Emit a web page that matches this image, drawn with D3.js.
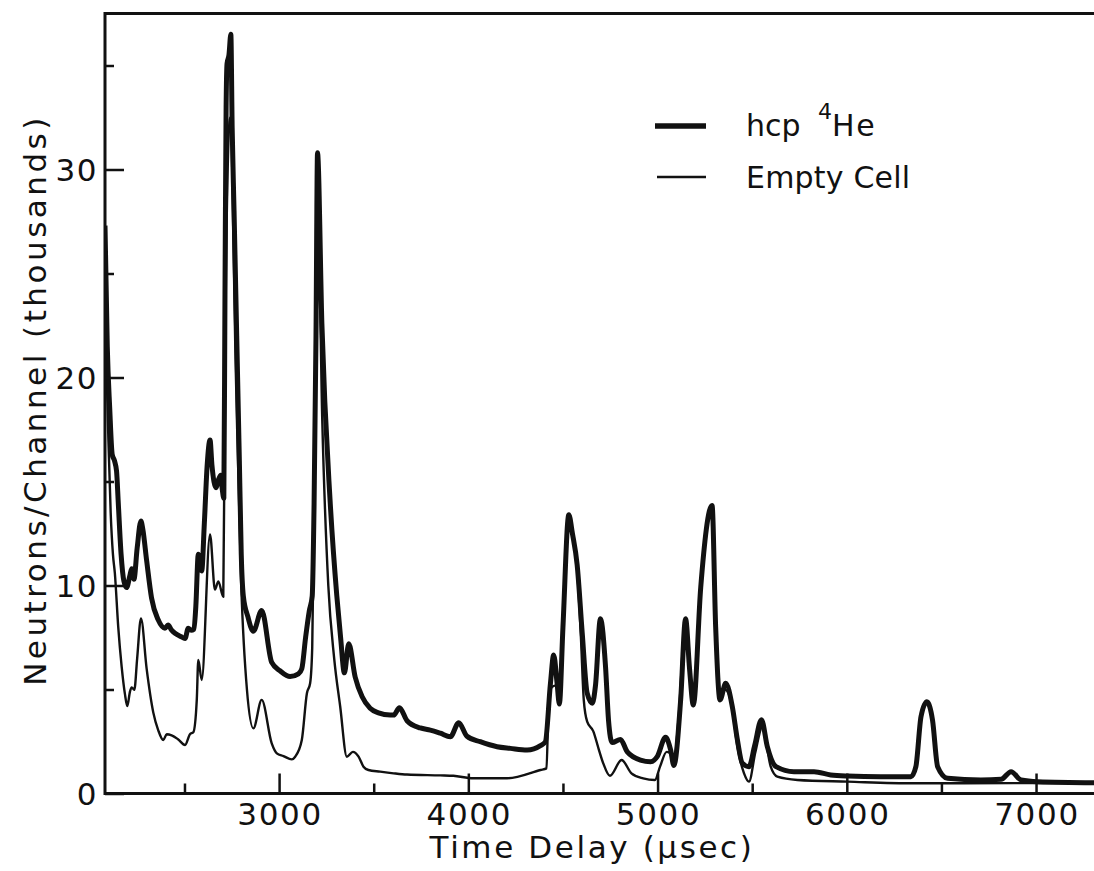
<!DOCTYPE html>
<html>
<head>
<meta charset="utf-8">
<script src="https://cdn.jsdelivr.net/npm/d3@7/dist/d3.min.js"></script>
<style>
  html, body { margin: 0; padding: 0; background: #fff; }
  svg { display: block; }
  text { font-family: "DejaVu Sans", sans-serif; fill: #111; }
</style>
</head>
<body>
<svg id="chart" width="1094" height="871"></svg>
<script>
// Time-of-flight spectra: hcp 4He sample vs. empty cell (counts in thousands)
const hcpTime = [2080, 2092, 2105, 2118, 2130, 2141, 2150, 2165, 2180, 2194, 2212, 2221, 2233, 2250, 2270, 2280, 2300, 2326, 2361, 2397, 2413, 2432, 2450, 2480, 2503, 2520, 2535, 2550, 2560, 2573, 2591, 2605, 2620, 2635, 2645, 2667, 2680, 2692, 2700, 2708, 2714, 2720, 2725, 2735, 2745, 2752, 2762, 2776, 2790, 2800, 2811, 2835, 2864, 2908, 2961, 3005, 3058, 3102, 3120, 3140, 3160, 3175, 3185, 3195, 3203, 3226, 3270, 3305, 3325, 3345, 3368, 3402, 3439, 3481, 3525, 3587, 3605, 3636, 3676, 3746, 3799, 3852, 3905, 3949, 3993, 4063, 4152, 4222, 4311, 4381, 4407, 4434, 4451, 4469, 4481, 4500, 4531, 4550, 4575, 4602, 4628, 4655, 4672, 4698, 4725, 4741, 4760, 4804, 4840, 4910, 4963, 4998, 5042, 5069, 5086, 5122, 5148, 5169, 5189, 5228, 5288, 5307, 5330, 5360, 5395, 5422, 5448, 5483, 5513, 5549, 5580, 5626, 5721, 5827, 5915, 6004, 6180, 6339, 6365, 6392, 6423, 6453, 6480, 6533, 6709, 6815, 6868, 6921, 7009, 7338];
const hcpCounts = [27.3, 21.5, 18.5, 16.3, 16.0, 15.5, 14.0, 11.5, 10.2, 9.9, 10.5, 10.8, 10.3, 11.8, 13.1, 12.7, 11.2, 9.4, 8.35, 7.95, 8.1, 7.85, 7.7, 7.55, 7.45, 7.95, 7.85, 7.9, 9.0, 11.5, 10.7, 13.0, 15.8, 17.0, 15.8, 14.7, 15.1, 15.3, 14.6, 14.2, 24.0, 33.0, 35.1, 35.5, 36.5, 32.0, 28.0, 22.0, 16.0, 11.5, 9.5, 8.5, 7.8, 8.8, 6.3, 5.9, 5.62, 5.75, 6.0, 7.5, 8.8, 9.5, 14.0, 22.0, 30.8, 22.6, 14.0, 9.5, 7.5, 5.8, 7.2, 5.6, 4.65, 4.1, 3.88, 3.77, 3.77, 4.12, 3.5, 3.15, 3.05, 2.9, 2.73, 3.4, 2.75, 2.49, 2.25, 2.17, 2.09, 2.3, 2.49, 5.3, 6.66, 5.3, 4.3, 8.0, 13.4, 12.5, 11.0, 7.7, 4.82, 4.34, 5.2, 8.4, 6.1, 3.5, 2.45, 2.6, 2.0, 1.61, 1.53, 1.77, 2.7, 2.1, 1.35, 4.5, 8.4, 6.0, 4.25, 9.9, 13.85, 8.0, 4.5, 5.3, 4.17, 2.57, 1.45, 1.29, 2.3, 3.55, 2.25, 1.29, 1.05, 1.05, 0.89, 0.84, 0.81, 0.81, 1.29, 3.69, 4.41, 3.53, 1.29, 0.73, 0.65, 0.68, 1.05, 0.65, 0.57, 0.52];

const emptyTime = [2080, 2088, 2098, 2110, 2122, 2132, 2150, 2168, 2185, 2198, 2212, 2221, 2235, 2250, 2270, 2300, 2335, 2361, 2388, 2406, 2432, 2467, 2503, 2529, 2547, 2565, 2573, 2591, 2635, 2661, 2679, 2705, 2719, 2741, 2772, 2800, 2830, 2864, 2908, 2961, 2988, 3023, 3067, 3085, 3120, 3147, 3164, 3175, 3185, 3206, 3228, 3260, 3291, 3323, 3358, 3390, 3420, 3446, 3472, 3534, 3605, 3676, 3852, 3921, 4026, 4205, 4381, 4413, 4425, 4443, 4466, 4481, 4500, 4531, 4550, 4575, 4595, 4610, 4628, 4660, 4690, 4713, 4748, 4810, 4862, 4924, 4986, 5013, 5048, 5065, 5086, 5110, 5148, 5169, 5189, 5228, 5288, 5307, 5330, 5356, 5390, 5422, 5457, 5483, 5517, 5554, 5598, 5633, 5739, 6004, 6354, 6883, 7338];
const emptyCounts = [27.3, 21.0, 17.0, 13.5, 11.5, 10.6, 8.0, 6.1, 4.8, 4.2, 4.9, 5.1, 4.98, 6.5, 8.42, 6.0, 3.9, 3.05, 2.57, 2.85, 2.8, 2.6, 2.33, 2.85, 2.95, 4.5, 6.42, 5.46, 12.45, 9.8, 10.2, 9.46, 25.0, 32.5, 20.0, 10.0, 5.0, 3.13, 4.5, 2.41, 1.93, 1.8, 1.64, 1.77, 2.57, 4.82, 5.3, 7.0, 14.0, 27.5, 18.0, 10.0, 6.5, 4.17, 1.77, 2.0, 1.77, 1.29, 1.13, 1.05, 0.97, 0.91, 0.87, 0.85, 0.73, 0.73, 1.13, 1.21, 4.5, 5.13, 5.2, 4.8, 8.0, 13.3, 12.4, 10.8, 7.5, 4.5, 3.45, 3.0, 2.1, 1.45, 0.85, 1.61, 0.97, 0.73, 0.65, 1.29, 2.0, 1.95, 1.5, 3.5, 8.3, 5.9, 4.2, 9.8, 13.8, 8.0, 4.7, 5.0, 4.34, 2.25, 0.97, 0.57, 2.0, 3.2, 1.29, 0.81, 0.65, 0.57, 0.49, 0.5, 0.5];

const xMajorTicks = [3000, 4000, 5000, 6000, 7000];
const xMinorTicks = [2500, 3500, 4500, 5500, 6500];
const yMajorTicks = [0, 10, 20, 30];
const yMinorTicks = [5, 15, 25, 35];

const seriesNames = ["hcp", "Empty Cell"];

const svg = d3.select("#chart");
const plotLeft = 105, plotRight = 1100, plotTop = 13.5, plotBottom = 793.5;

const x = d3.scaleLinear().domain([2080, 7338]).range([plotLeft, plotRight]);
const y = d3.scaleLinear().domain([0, 37.5]).range([plotBottom, plotTop]);

// clip the traces to the frame
svg.append("clipPath").attr("id", "plotClip")
  .append("rect").attr("x", plotLeft).attr("y", plotTop)
  .attr("width", plotRight - plotLeft).attr("height", plotBottom - plotTop);

const line = d3.line()
  .x(d => x(d[0]))
  .y(d => y(d[1]))
  .curve(d3.curveMonotoneX);

const hcpData = hcpTime.map((t, i) => [t, hcpCounts[i]]);
const emptyData = emptyTime.map((t, i) => [t, emptyCounts[i]]);

const plot = svg.append("g").attr("clip-path", "url(#plotClip)");
plot.append("path").datum(emptyData)
  .attr("d", line).attr("fill", "none")
  .attr("stroke", "#111").attr("stroke-width", 2.4)
  .attr("stroke-linejoin", "round");
plot.append("path").datum(hcpData)
  .attr("d", line).attr("fill", "none")
  .attr("stroke", "#111").attr("stroke-width", 5)
  .attr("stroke-linejoin", "round");

// frame
svg.append("path")
  .attr("d", `M${plotRight},${plotTop}H${plotLeft}V${plotBottom}H${plotRight}`)
  .attr("fill", "none").attr("stroke", "#111").attr("stroke-width", 3);

// x ticks (inward)
const xAxis = d3.axisTop(x).tickValues(xMajorTicks).tickSize(20).tickFormat("");
svg.append("g").attr("transform", `translate(0,${plotBottom})`).call(xAxis)
  .call(g => g.select(".domain").remove())
  .call(g => g.selectAll("line").attr("stroke", "#111").attr("stroke-width", 2.5));
const xAxisMinor = d3.axisTop(x).tickValues(xMinorTicks).tickSize(10).tickFormat("");
svg.append("g").attr("transform", `translate(0,${plotBottom})`).call(xAxisMinor)
  .call(g => g.select(".domain").remove())
  .call(g => g.selectAll("line").attr("stroke", "#111").attr("stroke-width", 2.5));

// y ticks (inward)
const yAxis = d3.axisRight(y).tickValues(yMajorTicks).tickSize(19).tickFormat("");
svg.append("g").attr("transform", `translate(${plotLeft},0)`).call(yAxis)
  .call(g => g.select(".domain").remove())
  .call(g => g.selectAll("line").attr("stroke", "#111").attr("stroke-width", 2.5));
const yAxisMinor = d3.axisRight(y).tickValues(yMinorTicks).tickSize(9).tickFormat("");
svg.append("g").attr("transform", `translate(${plotLeft},0)`).call(yAxisMinor)
  .call(g => g.select(".domain").remove())
  .call(g => g.selectAll("line").attr("stroke", "#111").attr("stroke-width", 2.5));

// tick labels
svg.append("g").selectAll("text").data(xMajorTicks).join("text")
  .attr("x", d => x(d) + 1).attr("y", 825)
  .attr("text-anchor", "middle")
  .attr("font-size", 31).attr("letter-spacing", 1.7)
  .text(d => d);
svg.append("g").selectAll("text").data(yMajorTicks).join("text")
  .attr("x", 98).attr("y", d => y(d) + 11)
  .attr("text-anchor", "end")
  .attr("font-size", 31).attr("letter-spacing", 1.5)
  .text(d => d);

// axis titles
svg.append("text")
  .attr("x", 592).attr("y", 858)
  .attr("text-anchor", "middle")
  .attr("font-size", 31).attr("letter-spacing", 2.6)
  .text("Time Delay (\u03bcsec)");
svg.append("text")
  .attr("transform", "translate(46,400) rotate(-90)")
  .attr("text-anchor", "middle")
  .attr("font-size", 31).attr("letter-spacing", 3.5)
  .text("Neutrons/Channel (thousands)");

// legend
const legend = svg.append("g");
legend.append("line").attr("x1", 655).attr("x2", 706).attr("y1", 126).attr("y2", 126)
  .attr("stroke", "#111").attr("stroke-width", 5.5);
legend.append("line").attr("x1", 657).attr("x2", 706).attr("y1", 177).attr("y2", 177)
  .attr("stroke", "#111").attr("stroke-width", 2.4);
const l1 = legend.append("text").attr("x", 746).attr("y", 136).attr("font-size", 30);
l1.append("tspan").text(seriesNames[0] + " ");
l1.append("tspan").attr("font-size", 22).attr("dy", -17).attr("dx", 8).text("4");
l1.append("tspan").attr("dy", 17).attr("letter-spacing", 1.5).text("He");
legend.append("text").attr("x", 746).attr("y", 188).attr("font-size", 30)
  .attr("letter-spacing", 0.2)
  .text(seriesNames[1]);
</script>
</body>
</html>
